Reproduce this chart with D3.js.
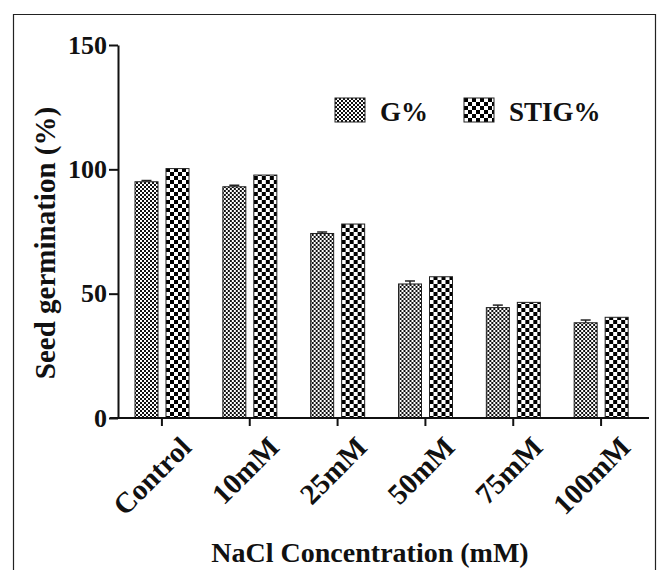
<!DOCTYPE html>
<html>
<head>
<meta charset="utf-8">
<script src="https://cdn.jsdelivr.net/npm/d3@7"></script>
<style>
  body { margin: 0; background: #fff; }
  text { font-family: "Liberation Serif", "Times New Roman", serif; font-weight: bold; fill: #111; }
</style>
</head>
<body>
<div class="chart"></div>
<script>
// values
var categories = ["Control", "10mM", "25mM", "50mM", "75mM", "100mM"];
var seriesKeys = ["G%", "STIG%"];
var gValues    = [95.0, 93.0, 74.2, 53.9, 44.4, 38.3];
var gErrors    = [0.5, 0.6, 0.6, 1.2, 1.0, 1.1];
var stigValues = [100.3, 97.7, 78.0, 56.8, 46.5, 40.5];
var yTicks     = [0, 50, 100, 150];

var svg = d3.select(".chart").append("svg").attr("width", 657).attr("height", 570);

// fill patterns
var defs = svg.append("defs");
var pG = defs.append("pattern").attr("id", "patG")
    .attr("patternUnits", "userSpaceOnUse").attr("width", 4).attr("height", 4);
pG.append("rect").attr("width", 4).attr("height", 4).attr("fill", "#fff");
pG.append("rect").attr("width", 2).attr("height", 2).attr("fill", "#111");
pG.append("rect").attr("x", 2).attr("y", 2).attr("width", 2).attr("height", 2).attr("fill", "#111");

var pS = defs.append("pattern").attr("id", "patS")
    .attr("patternUnits", "userSpaceOnUse").attr("width", 8).attr("height", 8);
pS.append("rect").attr("width", 8).attr("height", 8).attr("fill", "#fff");
pS.append("rect").attr("width", 4).attr("height", 4).attr("fill", "#000");
pS.append("rect").attr("x", 4).attr("y", 4).attr("width", 4).attr("height", 4).attr("fill", "#000");

var fills = { "G%": "url(#patG)", "STIG%": "url(#patS)" };

// outer frame
svg.append("path")
    .attr("d", "M13.5,570 V14.5 H655.5 V570")
    .attr("fill", "none").attr("stroke", "#222").attr("stroke-width", 1.2);

var x = d3.scaleBand().domain(categories).range([118, 645]);
var xSub = d3.scaleBand().domain(seriesKeys).range([17, 71]).paddingInner(8 / 31);
var y = d3.scaleLinear().domain([0, 150]).range([418, 45]);

var rows = categories.map(function (c, i) {
    return { cat: c, vals: [
        { key: "G%", v: gValues[i], e: gErrors[i] },
        { key: "STIG%", v: stigValues[i], e: 0 }
    ] };
});

// bars
var groups = svg.append("g").selectAll("g").data(rows).enter().append("g")
    .attr("transform", d => `translate(${x(d.cat)},0)`);

groups.selectAll("rect").data(d => d.vals).enter().append("rect")
    .attr("x", d => xSub(d.key))
    .attr("y", d => y(d.v))
    .attr("width", xSub.bandwidth())
    .attr("height", d => y(0) - y(d.v))
    .attr("fill", d => fills[d.key])
    .attr("stroke", "#222").attr("stroke-width", 1);

// error bars (upper only)
var eb = groups.selectAll(".err").data(d => d.vals.filter(v => v.e > 0)).enter().append("g").attr("class", "err");
eb.append("line")
    .attr("x1", d => xSub(d.key) + xSub.bandwidth() / 2)
    .attr("x2", d => xSub(d.key) + xSub.bandwidth() / 2)
    .attr("y1", d => y(d.v)).attr("y2", d => y(d.v + d.e))
    .attr("stroke", "#222").attr("stroke-width", 1.5);
eb.append("line")
    .attr("x1", d => xSub(d.key) + xSub.bandwidth() / 2 - 5)
    .attr("x2", d => xSub(d.key) + xSub.bandwidth() / 2 + 5)
    .attr("y1", d => y(d.v + d.e)).attr("y2", d => y(d.v + d.e))
    .attr("stroke", "#222").attr("stroke-width", 1.5);

// y axis
var yAxis = svg.append("g")
    .attr("transform", "translate(118,0)")
    .call(d3.axisLeft(y).tickValues(yTicks).tickSize(9).tickSizeOuter(0).tickPadding(2));
yAxis.select(".domain").attr("stroke", "#111").attr("stroke-width", 2);
yAxis.selectAll(".tick line").attr("stroke", "#111").attr("stroke-width", 2);
yAxis.selectAll(".tick text")
    .style("font-family", "Liberation Serif").style("font-weight", "bold")
    .style("font-size", "26px").attr("fill", "#111");

// x axis
var xAxis = svg.append("g")
    .attr("transform", "translate(0,418)")
    .call(d3.axisBottom(x).tickSize(8).tickSizeOuter(0));
xAxis.select(".domain").remove();
xAxis.selectAll(".tick line").attr("stroke", "#111").attr("stroke-width", 2);
xAxis.append("line").attr("x1", 110).attr("x2", 649)
    .attr("stroke", "#111").attr("stroke-width", 2);
xAxis.selectAll(".tick text")
    .style("font-family", "Liberation Serif").style("font-weight", "bold")
    .style("font-size", "29px").attr("fill", "#111")
    .attr("text-anchor", "end")
    .attr("y", 0).attr("dy", "0")
    .attr("transform", "translate(31,31) rotate(-45)");

// axis titles
svg.append("text")
    .attr("transform", "translate(55,243) rotate(-90)")
    .attr("text-anchor", "middle")
    .style("font-size", "29px")
    .text("Seed germination (%)");

svg.append("text")
    .attr("x", 370).attr("y", 562)
    .attr("text-anchor", "middle")
    .style("font-size", "28px")
    .text("NaCl Concentration (mM)");

// legend
var legendX = [335, 464];
var legend = svg.append("g").selectAll("g").data(seriesKeys).enter().append("g")
    .attr("transform", (d, i) => `translate(${legendX[i]},98)`);
legend.append("rect")
    .attr("width", 30).attr("height", 24)
    .attr("fill", d => fills[d])
    .attr("stroke", "#222").attr("stroke-width", 1);
legend.append("text")
    .attr("x", 45).attr("y", 23)
    .style("font-size", "27px")
    .text(d => d);
</script>
</body>
</html>
